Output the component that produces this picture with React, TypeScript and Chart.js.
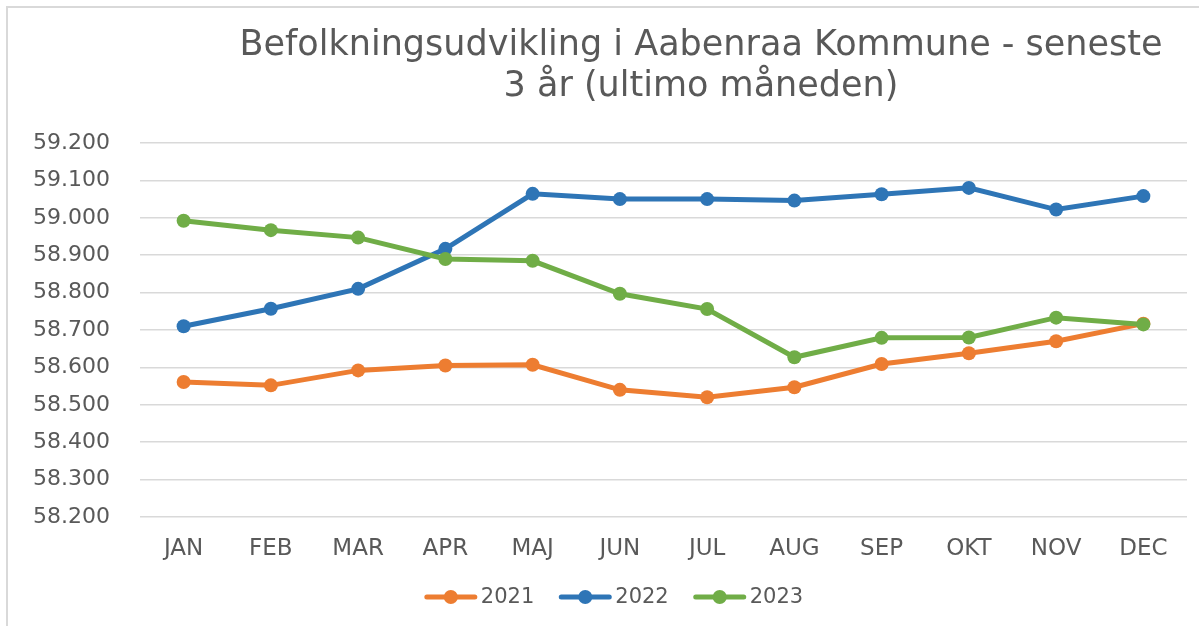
import React, { useEffect, useRef } from "react";
import { Chart, registerables } from "chart.js";

Chart.register(...registerables);

const months = ["JAN", "FEB", "MAR", "APR", "MAJ", "JUN", "JUL", "AUG", "SEP", "OKT", "NOV", "DEC"];
const seriesNames = ["2021", "2022", "2023"];
const values2021 = [58561, 58552, 58592, 58605, 58607, 58540, 58520, 58547, 58609, 58638, 58670, 58717];
const values2022 = [58710, 58757, 58810, 58917, 59064, 59050, 59050, 59046, 59063, 59080, 59022, 59058];
const values2023 = [58992, 58967, 58947, 58890, 58885, 58797, 58756, 58627, 58679, 58680, 58733, 58715];
const colors = ["#ED7D31", "#2E75B6", "#70AD47"];
const titleLines = ["Befolkningsudvikling i Aabenraa Kommune - seneste", "3 år (ultimo måneden)"];
const yMin = 58200;
const yMax = 59200;
const yStep = 100;

const FONT = "'DejaVu Sans', Verdana, sans-serif";
const TEXT = "#595959";

function fmt(v: number): string {
  return Math.round(v).toString().replace(/\B(?=(\d{3})+(?!\d))/g, ".");
}

const titlePlugin = {
  id: "customTitle",
  afterDraw(chart: any) {
    const ctx = chart.ctx;
    ctx.save();
    ctx.font = `35px ${FONT}`;
    ctx.fillStyle = TEXT;
    ctx.textAlign = "center";
    ctx.textBaseline = "alphabetic";
    ctx.fillText(titleLines[0], 701, 55);
    ctx.fillText(titleLines[1], 701, 96);
    ctx.restore();
  },
};

const legendPlugin = {
  id: "customLegend",
  afterDraw(chart: any) {
    const ctx = chart.ctx;
    const datasets = chart.data.datasets;
    ctx.save();
    ctx.font = `21px ${FONT}`;
    const lineLen = 52;
    const gap = 4;
    const spacing = 25;
    const widths = datasets.map((ds: any) => ctx.measureText(ds.label).width);
    let total = 0;
    widths.forEach((w: number, i: number) => {
      total += lineLen + gap + w + (i < widths.length - 1 ? spacing : 0);
    });
    let x = 614 - total / 2;
    const y = 597;
    datasets.forEach((ds: any, i: number) => {
      const color = ds.borderColor;
      ctx.strokeStyle = color;
      ctx.lineWidth = 5;
      ctx.lineCap = "round";
      ctx.beginPath();
      ctx.moveTo(x + 2, y);
      ctx.lineTo(x + lineLen - 2, y);
      ctx.stroke();
      ctx.fillStyle = color;
      ctx.beginPath();
      ctx.arc(x + lineLen / 2, y, 7, 0, Math.PI * 2);
      ctx.fill();
      ctx.fillStyle = TEXT;
      ctx.textAlign = "left";
      ctx.textBaseline = "middle";
      ctx.fillText(ds.label, x + lineLen + gap, y + 1);
      x += lineLen + gap + widths[i] + spacing;
    });
    ctx.restore();
  },
};

export default function App() {
  const ref = useRef<HTMLCanvasElement | null>(null);

  useEffect(() => {
    if (!ref.current) return;
    const all = [values2021, values2022, values2023];
    const chart = new Chart(ref.current, {
      type: "line",
      data: {
        labels: months,
        datasets: all.map((vals, i) => ({
          label: seriesNames[i],
          data: vals,
          borderColor: colors[i],
          backgroundColor: colors[i],
          pointBackgroundColor: colors[i],
          pointBorderColor: colors[i],
          borderWidth: 5,
          pointRadius: 7,
          pointBorderWidth: 0,
          pointHoverRadius: 7,
          tension: 0,
          order: 3 - i,
        })),
      },
      options: {
        animation: false,
        responsive: false,
        layout: { padding: { top: 143, right: 12, bottom: 59, left: 0 } },
        plugins: {
          title: { display: false },
          tooltip: { enabled: false },
          legend: { display: false },
        },
        scales: {
          x: {
            offset: true,
            grid: { display: false, drawTicks: false },
            border: { display: false },
            ticks: { color: TEXT, font: { family: FONT, size: 23 }, padding: 18, maxRotation: 0 },
            afterFit: (scale: any) => {
              scale.height = 50;
            },
          },
          y: {
            min: yMin,
            max: yMax,
            grid: { color: "#d9d9d9", lineWidth: 1.5, drawTicks: false },
            border: { display: false },
            ticks: {
              stepSize: yStep,
              color: TEXT,
              padding: 30,
              font: { family: FONT, size: 22 },
              callback: (v: any) => fmt(Number(v)),
            },
            afterFit: (scale: any) => {
              scale.width = 140;
            },
          },
        },
      },
      plugins: [titlePlugin, legendPlugin],
    } as any);
    return () => chart.destroy();
  }, []);

  return (
    <div style={{ position: "fixed", left: 0, top: 0, width: 1199, height: 626, background: "#fff", overflow: "hidden" }}>
      <canvas ref={ref} width={1199} height={626} style={{ position: "absolute", left: 0, top: 0 }} />
      <div
        style={{
          position: "absolute",
          left: 6,
          top: 6,
          width: 1300,
          height: 700,
          borderLeft: "2px solid #d9d9d9",
          borderTop: "2px solid #d9d9d9",
          pointerEvents: "none",
        }}
      />
    </div>
  );
}
